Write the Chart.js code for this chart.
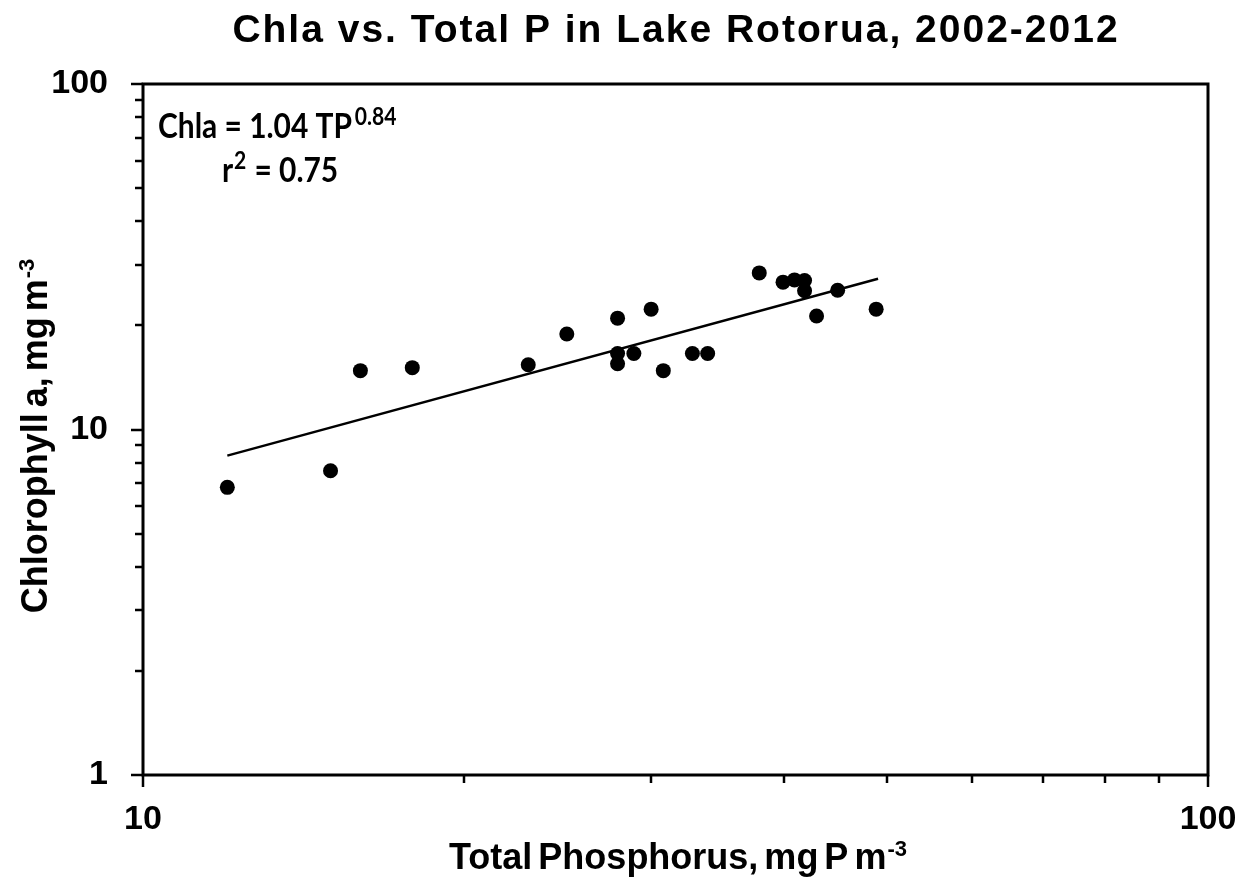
<!DOCTYPE html>
<html>
<head>
<meta charset="utf-8">
<script src="https://cdn.jsdelivr.net/npm/chart.js@4.4.0/dist/chart.umd.min.js"></script>
<style>
  html, body { margin: 0; padding: 0; background: #fff; }
  #wrap { width: 1250px; height: 877px; }
</style>
</head>
<body>
<div id="wrap"><canvas id="chart" width="1250" height="877"></canvas></div>
<script>
// data
var tpValues   = [12, 15, 16, 17.9, 23, 25, 27.9, 27.9, 27.9, 28.9, 30, 30.8, 32.8, 33.9, 37.9, 39.9, 40.9, 41.8, 41.8, 42.9, 44.9, 48.8];
var chlaValues = [6.8, 7.6, 14.8, 15.1, 15.4, 18.9, 21.0, 16.6, 15.5, 16.6, 22.3, 14.8, 16.6, 16.6, 28.4, 26.7, 27.1, 27.0, 25.2, 21.3, 25.3, 22.3];
var trendTP   = [12, 49];
var trendChla = [8.4, 27.3];

var xTickValues = [10, 20, 30, 40, 50, 60, 70, 80, 90, 100];
var yTickValues = [1, 2, 3, 4, 5, 6, 7, 8, 9, 10, 20, 30, 40, 50, 60, 70, 80, 90, 100];
var majorTicks  = [1, 10, 100];

var chartTitle = "Chla vs. Total P in Lake Rotorua, 2002-2012";
var xTitle = ["Total Phosphorus, mg P m", "-3"];
var yTitle = ["Chlorophyll a, mg m", "-3"];

var points = tpValues.map(function (v, i) { return { x: v, y: chlaValues[i] }; });
var trend = trendTP.map(function (v, i) { return { x: v, y: trendChla[i] }; });

var AXFONT = "'Liberation Sans', Arial, sans-serif";

// text with a superscript tail, left edge at x
function supText(ctx, main, sup, x, y, size, supSize, rise) {
  ctx.font = "bold " + size + "px " + AXFONT;
  var w = ctx.measureText(main).width;
  ctx.fillText(main, x, y);
  ctx.font = "bold " + supSize + "px " + AXFONT;
  ctx.fillText(sup, x + w + 1, y - rise);
}
function supWidth(ctx, main, sup, size, supSize) {
  ctx.font = "bold " + size + "px " + AXFONT;
  var w = ctx.measureText(main).width;
  ctx.font = "bold " + supSize + "px " + AXFONT;
  return w + 1 + ctx.measureText(sup).width;
}

var extras = {
  id: 'extras',
  afterDraw: function (chart) {
    var ctx = chart.ctx, a = chart.chartArea;
    var xs = chart.scales.x, ys = chart.scales.y;
    ctx.save();
    ctx.strokeStyle = '#000';
    ctx.fillStyle = '#000';

    // frame
    ctx.lineWidth = 3;
    ctx.strokeRect(a.left, a.top, a.right - a.left, a.bottom - a.top);

    // tick marks
    ctx.lineWidth = 2.5;
    ctx.beginPath();
    yTickValues.forEach(function (v) {
      var y = Math.round(ys.getPixelForValue(v));
      var len = majorTicks.indexOf(v) >= 0 ? 12 : 8;
      ctx.moveTo(a.left - len, y);
      ctx.lineTo(a.left, y);
    });
    xTickValues.forEach(function (v) {
      var x = Math.round(xs.getPixelForValue(v));
      var len = majorTicks.indexOf(v) >= 0 ? 12 : 8;
      ctx.moveTo(x, a.bottom);
      ctx.lineTo(x, a.bottom + len);
    });
    ctx.stroke();

    // main title
    ctx.textBaseline = 'alphabetic';
    ctx.textAlign = 'center';
    ctx.font = "bold 39px " + AXFONT;
    ctx.letterSpacing = '2px';
    ctx.fillText(chartTitle, 676, 42);
    ctx.letterSpacing = '0px';

    // axis titles
    ctx.textAlign = 'left';
    ctx.wordSpacing = '-4px';
    var wx = supWidth(ctx, xTitle[0], xTitle[1], 36, 22);
    supText(ctx, xTitle[0], xTitle[1], 678 - wx / 2, 869, 36, 22, 13);

    ctx.save();
    ctx.translate(47, 436);
    ctx.rotate(-Math.PI / 2);
    var wy = supWidth(ctx, yTitle[0], yTitle[1], 36, 22);
    supText(ctx, yTitle[0], yTitle[1], -wy / 2, 0, 36, 22, 13);
    ctx.restore();
    ctx.wordSpacing = '0px';

    // equation
    ctx.font = "bold 34px Lato, sans-serif";
    var m1 = ctx.measureText("Chla = 1.04 TP").width;
    var sx = 194 / m1;
    ctx.save();
    ctx.translate(158, 138);
    ctx.scale(sx, 1);
    ctx.fillText("Chla = 1.04 TP", 0, 0);
    ctx.font = "bold 24px Lato, sans-serif";
    ctx.fillText("0.84", m1 + 3, -13);
    ctx.restore();

    ctx.save();
    ctx.translate(222, 182);
    ctx.scale(sx, 1);
    ctx.font = "bold 34px Lato, sans-serif";
    ctx.fillText("r", 0, 0);
    var rw = ctx.measureText("r").width;
    ctx.font = "bold 24px Lato, sans-serif";
    ctx.fillText("2", rw + 1, -13);
    var tw = ctx.measureText("2").width;
    ctx.font = "bold 34px Lato, sans-serif";
    ctx.fillText(" = 0.75", rw + tw + 2, 0);
    ctx.restore();

    ctx.restore();
  }
};

var ctx = document.getElementById('chart');
new Chart(ctx, {
  type: 'scatter',
  data: {
    datasets: [{
      label: 'Chla',
      data: points,
      pointRadius: 7.5,
      pointHoverRadius: 7.5,
      pointBackgroundColor: '#000',
      pointBorderWidth: 0,
      showLine: false
    },
    {
      label: 'Fit',
      type: 'line',
      data: trend,
      borderColor: '#000',
      borderWidth: 2.5,
      pointRadius: 0,
      fill: false
    }]
  },
  options: {
    responsive: false,
    devicePixelRatio: 1,
    animation: false,
    layout: { padding: { top: 84, right: 42, left: 0, bottom: 0 } },
    plugins: { legend: { display: false }, tooltip: { enabled: false }, title: { display: false } },
    scales: {
      x: {
        type: 'logarithmic',
        min: 10, max: 100,
        afterBuildTicks: function (s) { s.ticks = xTickValues.map(function (v) { return { value: v }; }); },
        afterFit: function (s) { s.height = 102; s.paddingLeft = 0; s.paddingRight = 0; },
        grid: { display: false, drawTicks: false, tickLength: 0 },
        border: { display: false },
        ticks: {
          autoSkip: false, maxRotation: 0, padding: 24, color: '#000',
          font: { family: AXFONT, weight: 'bold', size: 34 },
          callback: function (v) { return majorTicks.indexOf(v) >= 0 ? String(v) : ''; }
        }
      },
      y: {
        type: 'logarithmic',
        min: 1, max: 100,
        afterBuildTicks: function (s) { s.ticks = yTickValues.map(function (v) { return { value: v }; }); },
        afterFit: function (s) { s.width = 143; s.paddingTop = 0; s.paddingBottom = 0; },
        grid: { display: false, drawTicks: false, tickLength: 0 },
        border: { display: false },
        ticks: {
          autoSkip: false, padding: 35, color: '#000',
          font: { family: AXFONT, weight: 'bold', size: 34 },
          callback: function (v) { return majorTicks.indexOf(v) >= 0 ? String(v) : ''; }
        }
      }
    }
  },
  plugins: [extras]
});
</script>
</body>
</html>
